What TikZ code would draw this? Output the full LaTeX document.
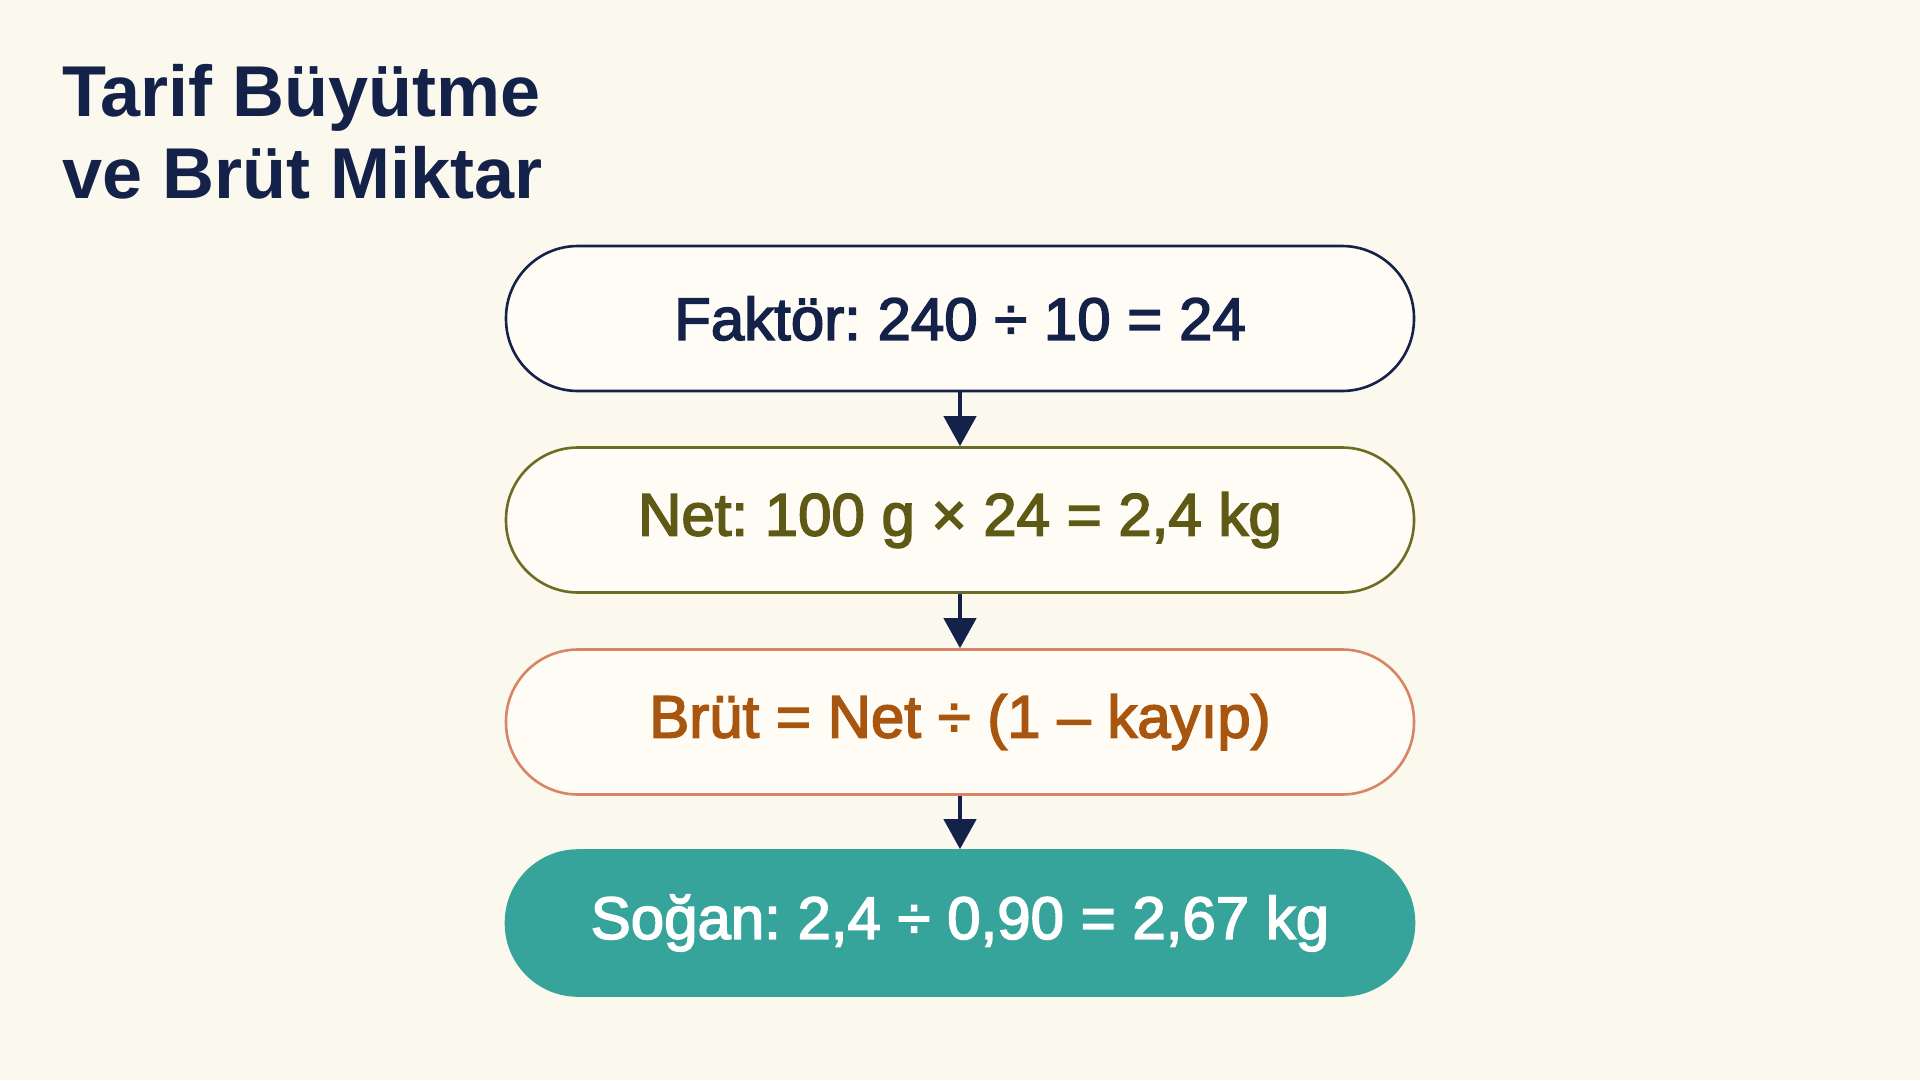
\documentclass[tikz,border=0pt]{standalone}
\usepackage{fontspec}
\setmainfont{Liberation Sans}
\newfontfamily\boxfont{Liberation Sans}[FakeBold=2.6]
\usetikzlibrary{arrows.meta}
\definecolor{bg}{HTML}{FBF8EE}
\definecolor{boxbg}{HTML}{FEFCF4}
\definecolor{navy}{HTML}{14224A}
\definecolor{olive}{HTML}{6E6B24}
\definecolor{olivetext}{HTML}{5E5A16}
\definecolor{salmon}{HTML}{D98466}
\definecolor{brown}{HTML}{A8560F}
\definecolor{teal}{HTML}{37A49B}
\frenchspacing
\tikzset{
  pill/.style={rectangle, rounded corners=72pt, minimum width=908pt, minimum height=145pt,
    line width=2.6pt, fill=boxbg, font=\boxfont\fontsize{60}{70}\selectfont, inner sep=0pt},
  flow/.style={draw=navy, line width=4.2pt, -{Triangle[length=30pt,width=32pt]}},
  title/.style={font=\bfseries\fontsize{72}{78}\selectfont, text=navy, align=left, anchor=north west, inner sep=0pt}
}
\begin{document}
\begin{tikzpicture}[x=1pt,y=-1pt]
\fill[bg] (0,0) rectangle (1920,1080);
\useasboundingbox (0,0) rectangle (1920,1080);
\node[title] (t) at (62,64) {Tarif Büyütme\\[4pt]ve Brüt Miktar};
\node[pill, draw=navy, text=navy] (b1) at (960,318.5) {Faktör: 240 ÷ 10 = 24};
\node[pill, draw=olive, text=olivetext] (b2) at (960,520) {Net: 100 g × 24 = 2,4 kg};
\node[pill, draw=salmon, text=brown] (b3) at (960,722) {Brüt = Net ÷ (1 – kayıp)};
\node[pill, draw=teal, fill=teal, text=white] (b4) at (960,923) {Soğan: 2,4 ÷ 0,90 = 2,67 kg};
\draw[flow] (b1.south) -- (b2.north);
\draw[flow] (b2.south) -- (b3.north);
\draw[flow] (b3.south) -- (b4.north);
\end{tikzpicture}
\end{document}
